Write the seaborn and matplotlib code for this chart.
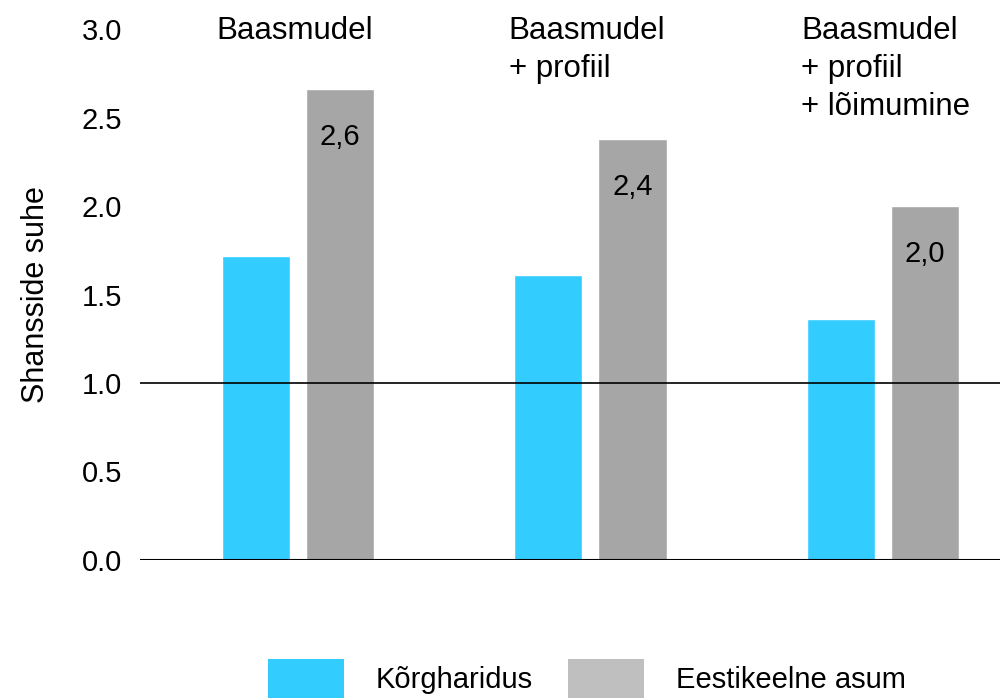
import matplotlib
matplotlib.use("Agg")
import matplotlib.pyplot as plt
import seaborn as sns
import pandas as pd
from matplotlib.patches import Patch

# data
models = ["Baasmudel", "Baasmudel\n+ profiil", "Baasmudel\n+ profiil\n+ lõimumine"]
groups = ["Kõrgharidus", "Eestikeelne asum"]
korgharidus = [1.72, 1.61, 1.36]
eestikeelne = [2.66, 2.38, 2.00]
value_labels = ["2,6", "2,4", "2,0"]
yticks = [0.0, 0.5, 1.0, 1.5, 2.0, 2.5, 3.0]

colors = ["#33CCFF", "#A6A6A6"]
legend_colors = ["#33CCFF", "#BFBFBF"]

df = pd.DataFrame({
    "model": models * 2,
    "grupp": [groups[0]] * 3 + [groups[1]] * 3,
    "value": korgharidus + eestikeelne,
})

sns.set_style("white")
plt.rcParams["font.family"] = ["Liberation Sans", "DejaVu Sans"]
plt.rcParams["text.color"] = "black"
plt.rcParams["ytick.color"] = "black"
plt.rcParams["axes.labelcolor"] = "black"

fig = plt.figure(figsize=(10, 6.98), dpi=100)
ax = fig.add_axes([0.14, 0.198, 0.86, 0.76])

sns.barplot(data=df, x="model", y="value", hue="grupp", palette=colors,
            width=0.575, gap=0.19, legend=False, ax=ax, saturation=1)

ax.set_xlim(-0.54, 2.40)
ax.set_ylim(0, 3.0)
ax.set_yticks(yticks)
ax.set_yticklabels([f"{t:.1f}" for t in yticks], fontsize=21)
ax.tick_params(axis="y", length=0, pad=13, labelcolor="black")
ax.set_xticks([])
ax.set_xlabel("")
ax.set_ylabel("Shansside suhe", fontsize=22, labelpad=22, color="black")
for s in ax.spines.values():
    s.set_visible(False)

ax.axhline(0, color="black", lw=1.5, zorder=3)
ax.axhline(1.0, color="black", lw=1.2, zorder=3)

# group titles above bars
for i, m in enumerate(models):
    ax.text(i - 0.28, 3.075, m, ha="left", va="top", fontsize=22.5,
            linespacing=1.34, clip_on=False, color="black")

# values inside the grey bars
for i, (v, lab) in enumerate(zip(eestikeelne, value_labels)):
    ax.text(i + 0.1436, v - 0.27, lab, ha="center", va="center",
            fontsize=21, color="black")

handles = [Patch(facecolor=c, edgecolor="none") for c in legend_colors]
fig.legend(handles, groups, loc="center", bbox_to_anchor=(0.587, 0.028),
           ncol=2, frameon=False, fontsize=21, handlelength=2.6,
           handleheight=1.65, handletextpad=1.1, columnspacing=1.2,
           borderpad=0)

fig.savefig("out.png", dpi=100)
